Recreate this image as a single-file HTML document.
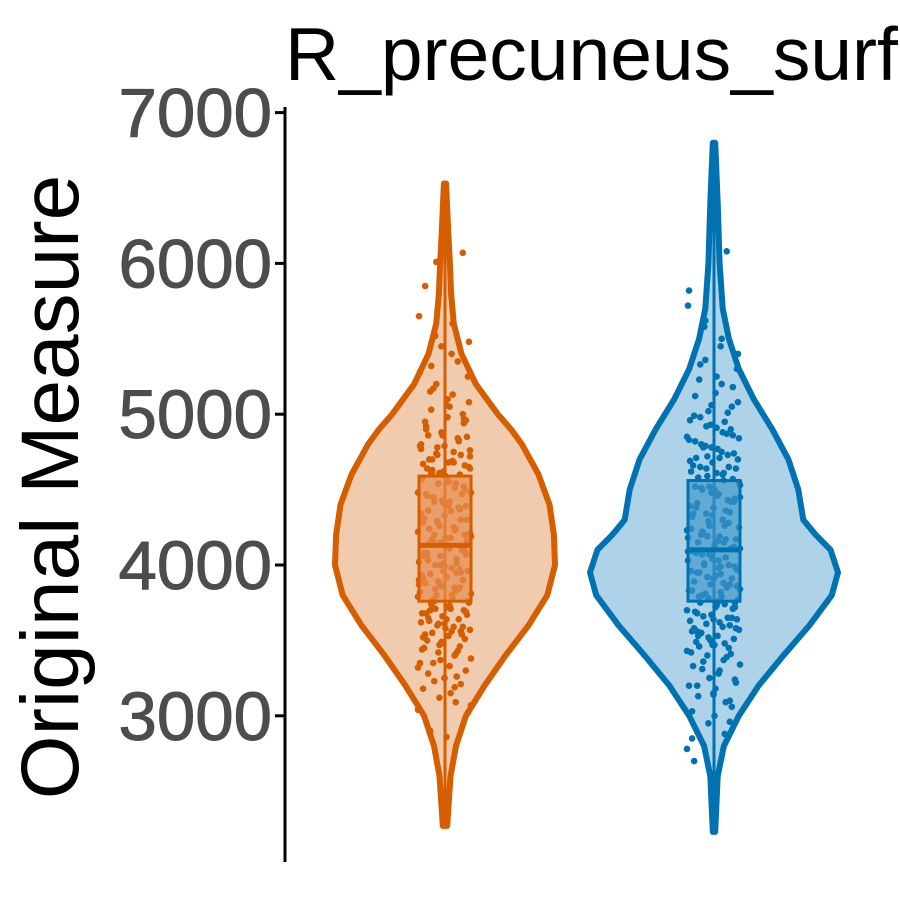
<!DOCTYPE html>
<html><head><meta charset="utf-8"><style>
body{margin:0;background:#fff}
svg text{font-family:"Liberation Sans",Arial,sans-serif}
</style></head><body>
<svg id="chart" width="900" height="900" viewBox="0 0 900 900">
<text x="285" y="80" font-size="75" fill="#000">R_precuneus_surf</text>
<text transform="translate(78,487) rotate(-90)" text-anchor="middle" font-size="82" fill="#000">Original Measure</text>
<line x1="285" y1="107" x2="285" y2="862" stroke="#000" stroke-width="3"/>
<g id="ticks"></g>
<g id="plot"></g>
</svg>
<script>
const yTicks=[3000,4000,5000,6000,7000];
const groups=['orange','blue'];
const orangeDensV=[2270,2600,2800,3000,3200,3400,3600,3800,4000,4200,4400,4600,4800,4900,5000,5200,5400,5600,5800,6000,6200,6530];
const orangeDensW=[0.02,0.05,0.1,0.19,0.36,0.55,0.76,0.93,1.0,0.99,0.95,0.85,0.7,0.6,0.48,0.28,0.15,0.08,0.055,0.045,0.03,0.01];
const blueDensV=[2230,2600,2800,3000,3200,3400,3600,3800,3950,4100,4200,4300,4500,4700,4900,5100,5300,5500,5700,6000,6400,6800];
const blueDensW=[0.01,0.03,0.08,0.2,0.36,0.56,0.77,0.95,1.0,0.94,0.82,0.72,0.68,0.6,0.47,0.32,0.2,0.12,0.07,0.045,0.03,0.01];
const orangeBox=[3760,4130,4590];
const blueBox=[3760,4100,4560];
const orangePts=[3040,3090,3120,3180,3210,3250,3280,3300,3330,3350,3380,3400,3420,3440,3460,3480,3500,3510,3530,3550,3570,3590,3600,3620,3640,3660,3680,3700,3720,3740,3750,3780,3800,3820,3840,3860,3880,3900,3920,3940,3960,3980,4000,4020,4040,4060,4080,4100,4120,4140,4160,4180,4200,4220,4240,4260,4280,4300,4330,4360,4390,4420,4450,4480,4510,4540,4570,4600,4620,4640,4660,4680,4700,4720,4750,4780,4800,4830,4860,4900,4940,4980,5030,5080,5130,5200,5280,5350,5450,5850,6070,2860,2900,3020,3560,3710,3870,4010,4150,4310,4470,4590,4700,4850,
3150,3230,3320,3410,3470,3520,3560,3610,3650,3690,3730,3770,3810,3850,3890,3930,3970,4010,4050,4090,4130,4170,4210,4250,4290,4340,4380,4430,4470,4520,4560,4610,4650,4690,4740,4790,4840,4880,4950,5000,5060,5150,5250,5400,5520,5650,
3260,3370,3450,3540,3580,3630,3670,3710,3760,3790,3830,3870,3910,3950,3990,4030,4070,4110,4150,4190,4230,4270,4320,4370,4410,4460,4500,4550,4600,4640,4680,4730,4770,4820,4870,4920,4970,5100,5320,5480,5600,6010,
3350,3430,3490,3540,3590,3640,3700,3760,3800,3840,3900,3950,4000,4060,4120,4180,4240,4300,4360,4420,4480,4540,4610,4670,4730,4790,4860,4960,5050,5170,3070,3190,3610,3680,3850,3960,4080,4200,4400,4630,4760];
const bluePts=[2780,2880,2950,3030,3100,3150,3200,3240,3280,3310,3340,3370,3400,3420,3450,3470,3490,3510,3530,3550,3570,3590,3610,3630,3650,3670,3690,3710,3730,3750,3770,3790,3810,3830,3850,3870,3890,3910,3930,3950,3970,3990,4010,4030,4050,4070,4090,4110,4130,4150,4170,4190,4210,4230,4260,4290,4320,4350,4380,4410,4440,4470,4500,4530,4560,4590,4620,4650,4680,4710,4740,4770,4800,4840,4880,4920,4960,5010,5060,5120,5180,5250,5330,5400,5500,5620,5820,6080,6350,2700,3060,3180,3460,3640,3820,4000,4180,4360,4520,4660,4900,
3000,3130,3220,3300,3360,3430,3480,3520,3560,3600,3640,3680,3720,3760,3800,3840,3880,3920,3960,4000,4040,4080,4120,4160,4200,4250,4300,4340,4390,4430,4480,4520,4570,4610,4650,4700,4750,4790,4830,4870,4930,4990,5050,5140,5230,5300,5450,5580,5720,
3090,3250,3330,3410,3470,3530,3580,3620,3660,3700,3740,3780,3830,3870,3910,3950,3990,4030,4070,4110,4150,4190,4240,4280,4330,4380,4420,4460,4510,4550,4600,4640,4690,4730,4780,4820,4860,4910,4980,5080,5200,5360,
3200,3390,3500,3580,3650,3720,3790,3860,3940,4010,4090,4170,4260,4340,4420,4500,4580,4640,4710,4780,4850,4950,5020,2850,2960,3140,3560,3750,3980,4220,4450,4610,4720];
const yScale=v=>565-(v-4000)*0.1508;
const centers={orange:445,blue:714};
const halfMax={orange:110,blue:124};
const colors={orange:{line:'#D55E00',fill:'#F1CBAD',box:'rgba(232,140,80,0.72)'},blue:{line:'#0072B2',fill:'#AED3E8',box:'rgba(60,150,200,0.68)'}};
const NS='http://www.w3.org/2000/svg';
const tk=document.getElementById('ticks');
yTicks.forEach(t=>{
  const y=yScale(t);
  const l=document.createElementNS(NS,'line');
  l.setAttribute('x1',275);l.setAttribute('x2',285);l.setAttribute('y1',y);l.setAttribute('y2',y);
  l.setAttribute('stroke','#000');l.setAttribute('stroke-width',3);
  
  
  tk.appendChild(l);
  const tx=document.createElementNS(NS,'text');
  tx.setAttribute('x',272);tx.setAttribute('y',y+24);tx.setAttribute('text-anchor','end');
  tx.setAttribute('font-size',69);tx.setAttribute('fill','#4D4D4D');tx.setAttribute('stroke','#4D4D4D');tx.setAttribute('stroke-width',1);tx.textContent=t;
  
  
  tk.appendChild(tx);
});
const plot=document.getElementById('plot');
function jit(i){return ((i*37)%53)/53-0.5;}
groups.forEach(g=>{
  const dv=g==='orange'?orangeDensV:blueDensV, dw=g==='orange'?orangeDensW:blueDensW;
  const box=g==='orange'?orangeBox:blueBox, pts=g==='orange'?orangePts:bluePts;
  const cx=centers[g],hm=halfMax[g],c=colors[g];
  let right=[],left=[];
  for(let i=0;i<dv.length;i++){right.push([cx+dw[i]*hm,yScale(dv[i])]);}
  for(let i=dv.length-1;i>=0;i--){left.push([cx-dw[i]*hm,yScale(dv[i])]);}
  const all=right.concat(left);
  let d='M'+all.map(p=>p[0].toFixed(1)+','+p[1].toFixed(1)).join(' L')+' Z';
  const v=document.createElementNS(NS,'path');
  v.setAttribute('d',d);v.setAttribute('fill',c.fill);v.setAttribute('stroke',c.line);
  v.setAttribute('stroke-width',6);v.setAttribute('stroke-linejoin','round');
  
  
  plot.appendChild(v);
  const wl=document.createElementNS(NS,'line');
  wl.setAttribute('x1',cx);wl.setAttribute('x2',cx);wl.setAttribute('y1',yScale(dv[0]));wl.setAttribute('y2',yScale(dv[dv.length-1]));
  wl.setAttribute('stroke',c.line);wl.setAttribute('stroke-width',3);
  
  
  plot.appendChild(wl);
  pts.forEach((p,i)=>{
    const ci=document.createElementNS(NS,'circle');
    ci.setAttribute('cx',cx+jit(i)*54);ci.setAttribute('cy',yScale(p));ci.setAttribute('r',3.3);
    ci.setAttribute('fill',c.line);
    
    
    plot.appendChild(ci);
  });
  const r=document.createElementNS(NS,'rect');
  r.setAttribute('x',cx-26);r.setAttribute('width',52);
  r.setAttribute('y',yScale(box[2]));r.setAttribute('height',yScale(box[0])-yScale(box[2]));
  r.setAttribute('fill',c.box);r.setAttribute('stroke',c.line);r.setAttribute('stroke-width',3);
  
  
  plot.appendChild(r);
  const m=document.createElementNS(NS,'line');
  m.setAttribute('x1',cx-26);m.setAttribute('x2',cx+26);m.setAttribute('y1',yScale(box[1]));m.setAttribute('y2',yScale(box[1]));
  m.setAttribute('stroke',c.line);m.setAttribute('stroke-width',5);
  
  
  plot.appendChild(m);
});
</script>
</body></html>
